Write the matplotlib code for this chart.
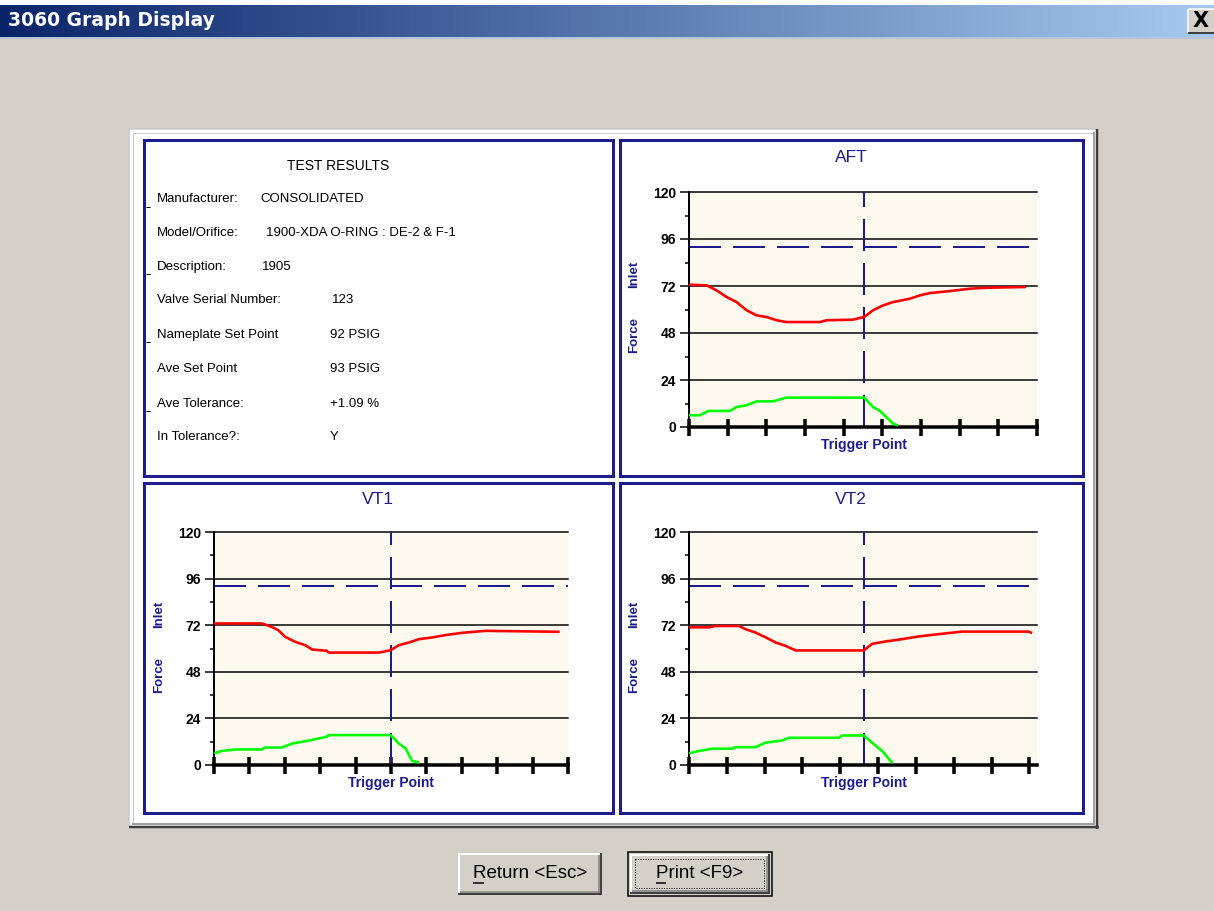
import numpy as np
import matplotlib.pyplot as plt
from matplotlib.patches import Rectangle
from matplotlib.ticker import FixedLocator

plt.rcParams['font.family'] = ['Liberation Sans', 'DejaVu Sans']

# ─────────────────────────────────────────────────────────────────────────────
# DATA
# ─────────────────────────────────────────────────────────────────────────────

WINDOW_TITLE = '3060 Graph Display'
INFO_TITLE = 'TEST RESULTS'
INFO_LABELS = ['Manufacturer:', 'Model/Orifice:', 'Description:', 'Valve Serial Number:',
               'Nameplate Set Point', 'Ave Set Point', 'Ave Tolerance:', 'In Tolerance?:']
INFO_VALUES = ['CONSOLIDATED', '1900-XDA O-RING : DE-2 & F-1', '1905', '123',
               '92 PSIG', '93 PSIG', '+1.09 %', 'Y']

Y_TICKS = [0, 24, 48, 72, 96, 120]
SET_POINT = 92

aft_inlet_x = [0, 0.46, 0.71, 0.97, 1.23, 1.49, 1.75, 2.0, 2.27, 2.52, 3.39, 3.56, 4.24, 4.53,
               4.76, 5.02, 5.28, 5.71, 5.97, 6.23, 6.74, 7.26, 7.69, 8.72]
aft_inlet_y = [72.7, 72.3, 69.8, 66.4, 63.8, 59.6, 57.0, 56.2, 54.5, 53.6, 53.6, 54.5, 54.8, 56.2,
               59.6, 62.1, 63.8, 65.5, 67.2, 68.4, 69.4, 70.6, 71.1, 71.5]
aft_force_x = [0, 0.28, 0.5, 1.06, 1.23, 1.49, 1.75, 2.18, 2.52, 4.53, 4.76, 4.94, 5.28, 5.41]
aft_force_y = [6.0, 6.0, 8.2, 8.2, 10.2, 11.1, 13.1, 13.1, 15.0, 15.0, 10.2, 8.2, 1.7, 0.8]

vt1_inlet_x = [0, 1.36, 1.63, 1.82, 2.01, 2.30, 2.58, 2.77, 3.19, 3.24, 4.66, 4.99, 5.22, 5.51,
               5.79, 6.17, 6.54, 7.02, 7.68, 9.76]
vt1_inlet_y = [72.9, 72.9, 71.1, 69.4, 66.0, 63.4, 61.7, 59.5, 58.8, 57.9, 57.9, 59.1, 61.7, 63.1,
               64.8, 65.7, 66.9, 68.1, 69.1, 68.6]
vt1_force_x = [0, 0.22, 0.60, 1.36, 1.44, 1.92, 2.20, 2.77, 3.19, 3.24, 4.99, 5.22, 5.41, 5.60,
               5.79]
vt1_force_y = [6.0, 7.2, 8.0, 8.0, 9.0, 9.0, 11.0, 12.9, 14.6, 15.4, 15.4, 11.1, 8.6, 2.0, 1.4]

vt2_inlet_x = [0, 0.53, 0.70, 1.32, 1.5, 1.76, 2.02, 2.29, 2.55, 2.82, 4.62, 4.84, 5.19, 5.63,
               6.07, 6.60, 7.22, 8.98, 9.07]
vt2_inlet_y = [70.9, 70.9, 71.6, 71.6, 69.9, 68.2, 65.8, 63.1, 61.4, 59.0, 59.0, 62.4, 63.6, 64.8,
               66.2, 67.4, 68.7, 68.7, 67.9]
vt2_force_x = [0, 0.26, 0.62, 1.14, 1.23, 1.76, 2.02, 2.46, 2.64, 3.96, 4.05, 4.62, 4.84, 5.11,
               5.33, 5.39]
vt2_force_y = [6.0, 7.2, 8.4, 8.4, 9.2, 9.2, 11.5, 12.6, 14.0, 14.0, 15.2, 15.2, 11.5, 7.2,
               2.1, 1.2]

# ─────────────────────────────────────────────────────────────────────────────
# STYLE
# ─────────────────────────────────────────────────────────────────────────────

W, H = 1214, 911
WIN_GRAY = '#d4d0c8'
NAVY = '#1c1c8e'
CREAM = '#fdf9ef'
PX = 72 / 100  # points per pixel at dpi=100

fig = plt.figure(figsize=(W / 100, H / 100), dpi=100)
fig.patch.set_facecolor(WIN_GRAY)

bg = fig.add_axes([0, 0, 1, 1])
bg.set_xlim(0, W); bg.set_ylim(H, 0); bg.axis('off')


def rect(x0, y0, x1, y1, **kw):
    bg.add_patch(Rectangle((x0, y0), x1 - x0, y1 - y0, **kw))


def hline(x0, x1, y, color, lw=1):
    bg.plot([x0, x1], [y, y], color=color, lw=lw * PX, solid_capstyle='butt')


def vline(x, y0, y1, color, lw=1):
    bg.plot([x, x], [y0, y1], color=color, lw=lw * PX, solid_capstyle='butt')


# title bar
rect(0, 0, W, 5, facecolor='white', edgecolor='none')
c0, c1 = np.array([10, 36, 106]) / 255, np.array([166, 202, 240]) / 255
t = np.linspace(0, 1, 512)[:, None]
grad = (c0 * (1 - t) + c1 * t)[None, :, :]
bg.imshow(grad, extent=(0, W, 37, 5), aspect='auto', interpolation='bilinear')
hline(0, W, 38, '#b8c4d8', 2)
bg.text(8, 21, WINDOW_TITLE, color='white', fontsize=13.5, fontweight='bold',
        family='DejaVu Sans', va='center', ha='left')
rect(1188, 9, 1216, 33, facecolor=WIN_GRAY, edgecolor='none')
hline(1188, 1216, 9, 'white', 1.5); vline(1188, 9, 33, 'white', 1.5)
hline(1188, 1216, 33, '#404040', 2)
bg.text(1201, 21, 'X', fontsize=15, fontweight='bold', family='DejaVu Sans',
        ha='center', va='center')
bg.set_xlim(0, W); bg.set_ylim(H, 0)

# white panel with sunken/raised edges
rect(129, 129, 1098, 827, facecolor='white', edgecolor='none')
hline(129, 1098, 129, '#c8c8c8', 1.5); vline(129, 129, 827, '#c8c8c8', 1.5)
hline(133, 1094, 133, '#c8c8c8', 1); vline(133, 133, 823, '#c8c8c8', 1)
vline(1097, 129, 829, '#404040', 2.5); hline(129, 1099, 827, '#404040', 2.5)
vline(1094, 132, 825, '#a0a0a0', 2); hline(132, 1095, 824, '#a0a0a0', 2)

# navy boxes
BOXES = [(144, 140, 613, 476), (620, 140, 1083, 476), (144, 483, 613, 813), (620, 483, 1083, 813)]
for x0, y0, x1, y1 in BOXES:
    rect(x0, y0, x1, y1, facecolor='none', edgecolor=NAVY, lw=3 * PX)

# test results text
bg.text(338, 166, INFO_TITLE, fontsize=10, ha='center', va='center')
ROW_Y = [199, 233, 267, 300, 335, 369, 404, 437]
VAL_X = [260, 266, 262, 332, 330, 330, 330, 330]
for i, (lab, val) in enumerate(zip(INFO_LABELS, INFO_VALUES)):
    bg.text(157, ROW_Y[i], lab, fontsize=9.5, ha='left', va='center')
    bg.text(VAL_X[i], ROW_Y[i], val, fontsize=9.5, ha='left', va='center')
for yy in [207, 274, 342, 411]:
    hline(146, 150, yy, 'black', 1)

# ─────────────────────────────────────────────────────────────────────────────
# GRAPHS
# ─────────────────────────────────────────────────────────────────────────────

PANELS = [
    ('AFT', (689, 192, 1037, 427), 851, 157, 9.0, 10, 4.53,
     aft_inlet_x, aft_inlet_y, aft_force_x, aft_force_y),
    ('VT1', (214, 532, 568, 765), 378, 500, 10.0, 11, 5.0,
     vt1_inlet_x, vt1_inlet_y, vt1_force_x, vt1_force_y),
    ('VT2', (689, 532, 1037, 765), 851, 500, 9.2, 10, 4.62,
     vt2_inlet_x, vt2_inlet_y, vt2_force_x, vt2_force_y),
]

for (name, (x0, y0, x1, y1), tx, ty, xmax, nticks, trig,
     ix, iy, fx, fy) in PANELS:
    bg.text(tx, ty, name, color=NAVY, fontsize=12.5, ha='center', va='center')
    bg.text(x0 - 55, y0 + 82, 'Inlet', color=NAVY, fontsize=9.5, fontweight='bold',
            rotation=90, ha='center', va='center')
    bg.text(x0 - 55, y0 + 143, 'Force', color=NAVY, fontsize=9.5, fontweight='bold',
            rotation=90, ha='center', va='center')

    ax = fig.add_axes([x0 / W, 1 - y1 / H, (x1 - x0) / W, (y1 - y0) / H])
    ax.set_facecolor(CREAM)
    ax.set_xlim(0, xmax); ax.set_ylim(0, 120)
    for s in ['top', 'right']:
        ax.spines[s].set_visible(False)
    ax.spines['left'].set_linewidth(2 * PX)
    ax.spines['bottom'].set_linewidth(3.5 * PX)

    ax.yaxis.set_major_locator(FixedLocator(Y_TICKS))
    ax.yaxis.set_minor_locator(FixedLocator([12, 36, 60, 84, 108]))
    ax.set_yticklabels([str(v) for v in Y_TICKS])
    ax.tick_params(axis='y', which='major', direction='out', length=9 * PX,
                   width=1.5 * PX, labelsize=10, pad=3)
    ax.tick_params(axis='y', which='minor', direction='out', length=4 * PX, width=1.5 * PX)
    for lbl in ax.get_yticklabels():
        lbl.set_fontweight('bold')

    ax.xaxis.set_major_locator(FixedLocator(list(range(nticks))))
    ax.tick_params(axis='x', which='major', direction='inout', length=17 * PX,
                   width=3.5 * PX, labelbottom=False)

    for v in Y_TICKS[1:]:
        ax.axhline(v, color='black', lw=1.5 * PX, zorder=1, clip_on=False)

    ax.axhline(SET_POINT, color=NAVY, lw=2 * PX, dashes=(16, 6), zorder=2)
    ax.axvline(trig, color=NAVY, lw=2 * PX, dashes=(16, 6), dash_capstyle='butt', zorder=2)

    ax.plot(ix, iy, color='#ff0000', lw=2.6 * PX, zorder=3, solid_capstyle='butt')
    ax.plot(fx, fy, color='#00ff00', lw=2.6 * PX, zorder=3, solid_capstyle='butt')

    ax.annotate('Trigger Point', xy=(trig, 0), xycoords=('data', 'axes fraction'),
                xytext=(0, -18 * PX), textcoords='offset points', ha='center', va='center',
                color=NAVY, fontsize=10, fontweight='bold', annotation_clip=False)

# ─────────────────────────────────────────────────────────────────────────────
# BUTTONS
# ─────────────────────────────────────────────────────────────────────────────

def button(x0, y0, x1, y1, label, default=False):
    rect(x0, y0, x1, y1, facecolor=WIN_GRAY, edgecolor='none')
    if default:
        rect(x0, y0, x1, y1, facecolor='none', edgecolor='black', lw=1.5 * PX)
        x0, y0, x1, y1 = x0 + 2, y0 + 2, x1 - 2, y1 - 2
    hline(x0, x1, y0 + 1, 'white', 2); vline(x0 + 1, y0, y1, 'white', 2)
    hline(x0, x1, y1 - 1, '#404040', 2); vline(x1 - 1, y0, y1, '#404040', 2)
    hline(x0 + 2, x1 - 2, y1 - 3, '#808080', 1.5); vline(x1 - 3, y0 + 2, y1 - 2, '#808080', 1.5)
    if default:
        rect(x0 + 5, y0 + 5, x1 - 6, y1 - 6, facecolor='none', edgecolor='black',
             lw=1 * PX, linestyle=(0, (1, 1.5)))
    cx, cy = (x0 + x1) / 2, (y0 + y1) / 2
    tx = bg.text(cx, cy, label, fontsize=13.5, ha='center', va='center')
    return tx


button(458, 853, 602, 895, 'Return <Esc>')
button(628, 852, 772, 896, 'Print <F9>', default=True)
hline(473, 484, 883, 'black', 1.5)
hline(656, 666, 883, 'black', 1.5)

fig.savefig('out.png', dpi=100, facecolor=WIN_GRAY)
